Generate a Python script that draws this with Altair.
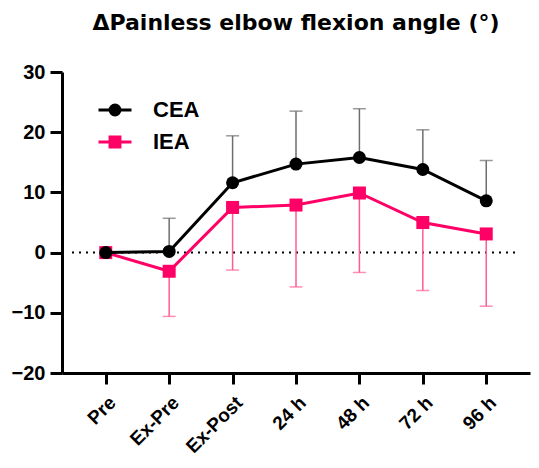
import altair as alt
import pandas as pd

categories = ["Pre", "Ex-Pre", "Ex-Post", "24 h", "48 h", "72 h", "96 h"]
series_names = ["CEA", "IEA"]
cea_mean = [0.0, 0.2, 11.6, 14.7, 15.8, 13.8, 8.6]
cea_sd = [0.0, 5.5, 7.8, 8.8, 8.1, 6.6, 6.7]
iea_mean = [0.0, -3.1, 7.5, 7.9, 9.9, 5.0, 3.1]
iea_sd = [0.0, 7.5, 10.4, 13.6, 13.2, 11.3, 12.0]
y_ticks = [-20, -10, 0, 10, 20, 30]

BLACK = "#000000"
PINK = "#ff0066"
CEA_ERR = "#6e6e6e"
IEA_ERR = "#ff5c96"
FONT = "Liberation Sans"
TITLE_FONT = "DejaVu Sans"

cea = pd.DataFrame({"time": categories, "mean": cea_mean, "sd": cea_sd})
cea["end"] = cea["mean"] + cea["sd"]
iea = pd.DataFrame({"time": categories, "mean": iea_mean, "sd": iea_sd})
iea["end"] = iea["mean"] - iea["sd"]

xenc = alt.X("time:N", sort=categories,
             scale=alt.Scale(type="point", domain=categories, padding=0.69),
             axis=alt.Axis(title=None, labelAngle=-45, labelAlign="right",
                           labelBaseline="top", labelPadding=9,
                           tickSize=11, tickWidth=3, domainWidth=3,
                           labelFontSize=19, labelFontWeight="bold",
                           labelFont=FONT, labelColor=BLACK,
                           domainColor=BLACK, tickColor=BLACK))
yscale = alt.Scale(domain=[-20, 30], nice=False, zero=False)
yaxis = alt.Axis(title=None, values=y_ticks, tickSize=12, tickWidth=3,
                 domainWidth=3, labelFontSize=20, labelFontWeight="bold",
                 labelFont=FONT, labelColor=BLACK, labelPadding=5,
                 domainColor=BLACK, tickColor=BLACK, grid=False)


def series_layers(df, line_color, err_color, shape):
    base = alt.Chart(df)
    err_df = base.transform_filter(alt.datum.sd > 0)
    rule = err_df.mark_rule(color=err_color, strokeWidth=1.5).encode(
        x=xenc, y=alt.Y("mean:Q", scale=yscale, axis=yaxis), y2="end:Q")
    cap = err_df.mark_tick(color=err_color, thickness=1.5, size=13).encode(
        x=xenc, y=alt.Y("end:Q", scale=yscale, axis=yaxis))
    line = base.mark_line(color=line_color, strokeWidth=3).encode(
        x=xenc, y=alt.Y("mean:Q", scale=yscale, axis=yaxis))
    pts = base.mark_point(filled=True, color=line_color, shape=shape,
                          size=169, opacity=1).encode(
        x=xenc, y=alt.Y("mean:Q", scale=yscale, axis=yaxis))
    return [rule, cap, line, pts]


zero_df = pd.DataFrame({"zero": [0]})
zero_line = alt.Chart(zero_df).mark_rule(
    color=BLACK, strokeWidth=2, strokeDash=[2, 5]).encode(
    y=alt.Y("zero:Q", scale=yscale, axis=yaxis),
    x=alt.value(10), x2=alt.value(458))

circle_path = "M-1,0H1M0.3,0A0.3,0.3,0,1,1,-0.3,0A0.3,0.3,0,1,1,0.3,0Z"
square_path = "M-1,0H1M-0.3,-0.3H0.3V0.3H-0.3Z"
leg = alt.Legend(title=None, orient="none", legendX=35, legendY=20,
                 padding=0, symbolSize=1089, symbolStrokeWidth=3,
                 labelFontSize=22, labelFontWeight="bold", labelFont=FONT,
                 labelColor=BLACK, labelOffset=20, rowPadding=3,
                 symbolOpacity=1)
legend_df = pd.DataFrame({"series": series_names})
legend_layer = alt.Chart(legend_df).transform_filter(
    alt.datum.series == "__none__").mark_point(filled=True).encode(
    fill=alt.Fill("series:N", scale=alt.Scale(domain=series_names, range=[BLACK, PINK]), legend=leg),
    stroke=alt.Stroke("series:N", scale=alt.Scale(domain=series_names, range=[BLACK, PINK]), legend=leg),
    shape=alt.Shape("series:N", scale=alt.Scale(domain=series_names, range=[circle_path, square_path]), legend=leg),
)

layers = [zero_line] + series_layers(iea, PINK, IEA_ERR, "square") + \
    series_layers(cea, BLACK, CEA_ERR, "circle") + [legend_layer]

chart = alt.layer(*layers).properties(
    width=468, height=301,
    autosize=alt.AutoSizeParams(type="none"),
    padding={"left": 54, "top": 64, "right": 1, "bottom": 87},
    title=alt.TitleParams("ΔPainless elbow flexion angle (°)", fontSize=22,
                          fontWeight="bold", font=TITLE_FONT, color=BLACK,
                          anchor="middle", offset=27),
).configure_view(stroke=None)

chart.save("out.html", embed_options={"renderer": "svg", "actions": False})
